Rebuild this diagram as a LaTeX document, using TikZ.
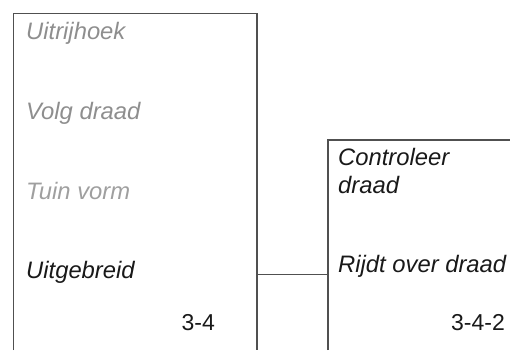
\documentclass[tikz,border=0pt]{standalone}
\usepackage{fontspec}
\setmainfont{Liberation Sans}
\definecolor{framegray}{HTML}{505050}
\definecolor{offgray}{HTML}{8E8E8E}
\begin{document}
\begin{tikzpicture}[
        x=1pt, y=-1pt,
        frame/.style={draw=framegray, line width=1.4pt},
        item/.style={anchor=base west, inner sep=0pt, font=\fontsize{23.8}{28}\selectfont\itshape},
        inactive/.style={item, text=offgray},
        active/.style={item, text=black!90},
        number/.style={anchor=base east, inner sep=0pt, font=\fontsize{23}{28}\selectfont, text=black!90}
    ]
        \useasboundingbox (0,0) rectangle (510,350);

        % menu level 3-4
        \coordinate (menu-tl) at (13.5, 13.5);
        \coordinate (menu-tr) at (257, 13.5);
        \draw[frame] (13.5, 350) -- (menu-tl) -- (menu-tr) -- (257, 350);
        \node[inactive] (uitrijhoek) at (26, 40) {Uitrijhoek};
        \node[inactive] (volg) at (26, 119) {Volg draad};
        \node[inactive, text=offgray!85] (tuin) at (26, 199) {Tuin vorm};
        \node[active] (uitgebreid) at (26, 278) {Uitgebreid};
        \node[number] (menu-nr) at (215, 330) {3-4};

        % submenu level 3-4-2
        \coordinate (sub-tl) at (328, 140);
        \draw[frame] (328, 350) -- (sub-tl) -- (510, 140);
        \node[active] (controleer) at (338, 165) {Controleer};
        \node[active] (draad) at (338, 193) {draad};
        \node[active] (rijdt) at (338, 272) {Rijdt over draad};
        \node[number] (sub-nr) at (505, 330) {3-4-2};

        \coordinate (link-a) at (257, 274.5);
        \coordinate (link-b) at (328, 274.5);
        \draw[frame] (link-a) -- (link-b);
    \end{tikzpicture}
\end{document}
